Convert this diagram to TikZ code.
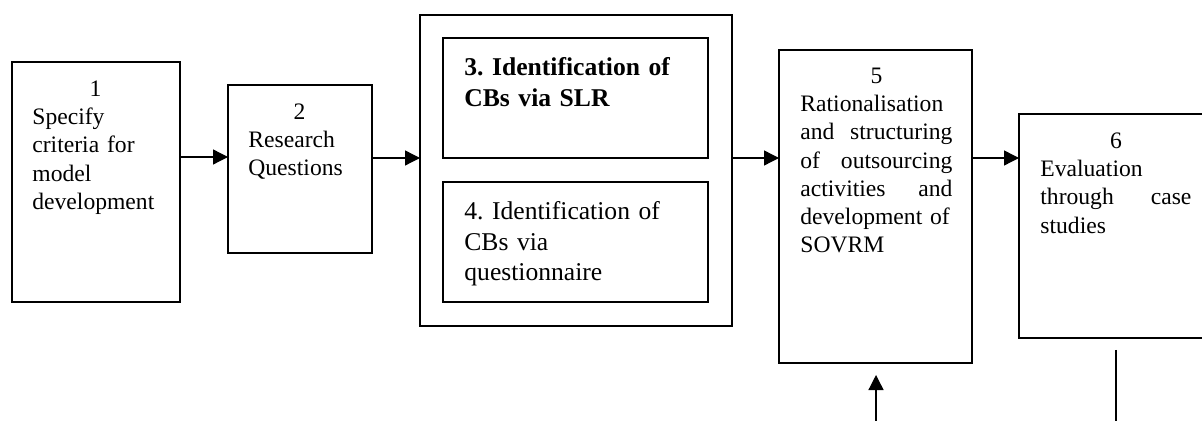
\documentclass[tikz,border=0pt]{standalone}
\usepackage{fontspec}
\setmainfont{Liberation Serif}
\usetikzlibrary{arrows.meta}
\frenchspacing
\begin{document}
\begin{tikzpicture}[x=0.5pt,y=-0.5pt,
  box/.style={draw, line width=0.65pt, anchor=north west, inner sep=0pt, outer sep=0pt},
  txt/.style={anchor=north west, inner sep=0pt, font=\fontsize{11.8pt}{14.1pt}\selectfont},
  txtb/.style={anchor=north west, inner sep=0pt, font=\fontsize{12.8pt}{15.3pt}\selectfont},
  arr/.style={line width=0.65pt, -{Triangle[length=7.5pt,width=7.5pt]}},
  ln/.style={line width=0.65pt}]
\useasboundingbox (0,0) rectangle (1202,421);
% boxes
\node[box, minimum width=84pt, minimum height=120pt] (b1) at (12,62) {};
\node[box, minimum width=72pt, minimum height=84pt] (b2) at (228,85) {};
\node[box, minimum width=156pt, minimum height=155.5pt] (b34) at (420,15) {};
\node[box, minimum width=132.5pt, minimum height=60pt] (b3) at (443,38) {};
\node[box, minimum width=132.5pt, minimum height=60pt] (b4) at (443,182) {};
\node[box, minimum width=96.5pt, minimum height=156.5pt] (b5) at (779,50) {};
\node[box, minimum width=97pt, minimum height=112pt] (b6) at (1019,114) {};
% texts
\node[txt, text width=63pt] (t1) at (32,76.4) {\centering\strut 1\par\raggedright Specify\\criteria for\\model\\development\par};
\node[txt, text width=51pt] (t2) at (248,99.4) {\centering\strut 2\par\raggedright Research\\Questions\par};
\node[txtb, text width=112pt] (t3) at (464,53.7) {\raggedright\bfseries\strut 3. Identification of\\CBs via SLR\par};
\node[txtb, text width=112pt] (t4) at (464,197.7) {\raggedright\strut 4. Identification of\\CBs via\\questionnaire\par};
\node[txt, text width=76pt] (t5) at (800,63.4) {\centering\strut 5\par\raggedright Rationalisation\\and\hfill structuring\\of\hfill outsourcing\\activities\hfill and\\development of\\SOVRM\par};
\node[txt, text width=75.5pt] (t6) at (1040,128.4) {\centering\strut 6\par\raggedright Evaluation\\through\hfill case\\studies\par};
% helper coordinates
\coordinate (y157) at (0,157);
\coordinate (y158) at (0,158);
\coordinate (in5) at (876,421);
\coordinate (out6) at (1116,421);
% connectors
\draw[arr] (b1.east |- y157) -- (b2.west |- y157);
\draw[arr] (b2.east |- y158) -- (b34.west |- y158);
\draw[arr] (b34.east |- y158) -- (b5.west |- y158);
\draw[arr] (b5.east |- y158) -- (b6.west |- y158);
\draw[arr, shorten >=6pt] (in5) -- (in5 |- b5.south);
\draw[ln, shorten <=6pt] (b6.south) -- (out6);
\end{tikzpicture}
\end{document}
